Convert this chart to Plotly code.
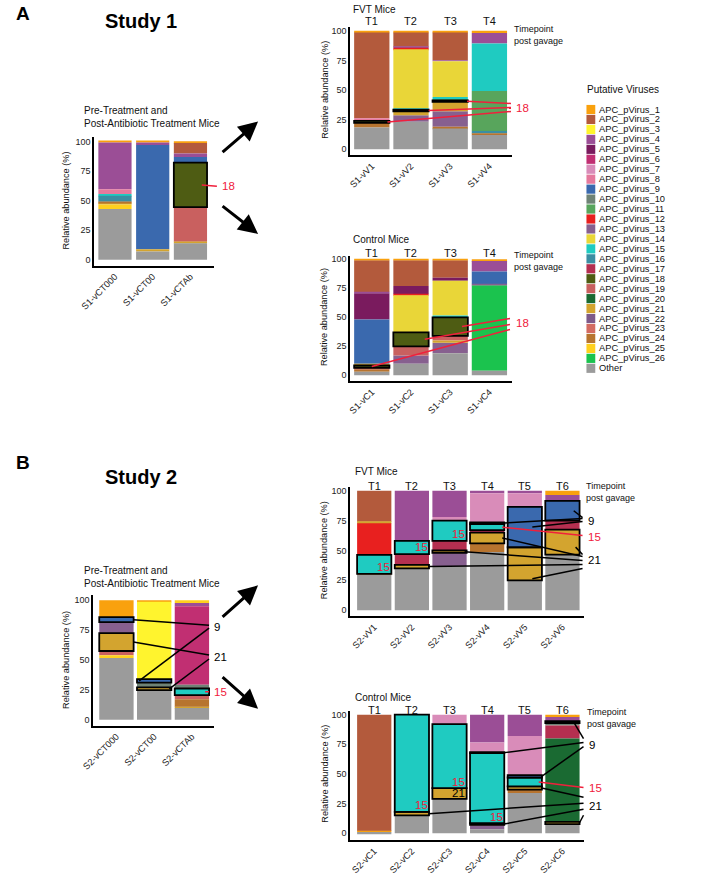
import plotly.graph_objects as go

W, H = 708, 875
FONT = "Arial, Liberation Sans, Helvetica, sans-serif"
RED = "#F0203C"
BLACK = "#000000"

# ---------------- data ----------------
VIRUS_LABELS = {i: f"APC_pVirus_{i}" for i in range(1, 27)}
VIRUS_LABELS[0] = "Other"
LEGEND_ORDER = list(range(1, 27)) + [0]

VIRUS_COLORS = {
    1: "#F9A10E", 2: "#B35A3C", 3: "#FFF42E", 4: "#9B4E96", 5: "#7A1B5E",
    6: "#C12F72", 7: "#D98CB9", 8: "#E5799D", 9: "#3A69AE", 10: "#6F8376",
    11: "#58A55C", 12: "#E8201F", 13: "#87608F", 14: "#E9D638", 15: "#1FCBC1",
    16: "#3B8EA2", 17: "#B52F50", 18: "#4E5C13", 19: "#C9605F", 20: "#1A6A32",
    21: "#D3A42F", 22: "#7D5A8A", 23: "#D36B62", 24: "#B7742F", 25: "#FFD01E",
    26: "#1BC34E", 0: "#9B9B9B",
}

# Study 1 pre-treatment
S1_PRE_SAMPLES = ["S1-vCT000", "S1-vCT00", "S1-vCTAb"]
S1_PRE_STACKS = [
    [(0, 43), (25, 3.7), (21, 1.3), (24, 1), (16, 5), (15, 1.5), (8, 4), (4, 39.5), (1, 1)],
    [(0, 7), (21, 2), (9, 88), (4, 2), (1, 1)],
    [(0, 14), (21, 1.3), (19, 29.2), (18, 37.5), (9, 4.7), (4, 3), (2, 9), (1, 1.3)],
]
S1_PRE_BOXED = [(2, 18)]

# Study 1 FVT mice
S1_FVT_SAMPLES = ["S1-vV1", "S1-vV2", "S1-vV3", "S1-vV4"]
S1_FVT_STACKS = [
    [(0, 18.4), (24, 3.9), (18, 1.7), (8, 2.3), (2, 72.3), (1, 1.4)],
    [(0, 23.2), (13, 5.6), (21, 3.3), (18, 1.4), (15, 0.9), (14, 50), (12, 1.4), (4, 0.8), (2, 12), (1, 1.4)],
    [(0, 17.6), (24, 1.4), (13, 13.1), (21, 7.9), (18, 1.3), (11, 1.2), (15, 1.6), (14, 30.2), (4, 0.8), (2, 23.5), (1, 1.4)],
    [(0, 12), (24, 1.4), (16, 2), (11, 33.8), (15, 40.2), (4, 8.9), (1, 1.7)],
]
S1_FVT_BOXED = [(0, 18), (1, 18), (2, 18)]

# Study 1 control mice
S1_CTL_SAMPLES = ["S1-vC1", "S1-vC2", "S1-vC3", "S1-vC4"]
S1_CTL_STACKS = [
    [(0, 3), (24, 2), (19, 1.5), (18, 2), (21, 1.5), (9, 38), (5, 22.5), (4, 1), (2, 27.5), (1, 1)],
    [(0, 10), (13, 7), (19, 8), (18, 12), (14, 32), (12, 1), (5, 7), (2, 22), (1, 1)],
    [(0, 19), (13, 9), (21, 2), (19, 4), (18, 16), (15, 1.5), (14, 30), (5, 2.5), (2, 15), (1, 1)],
    [(0, 4), (26, 73.5), (13, 1), (9, 11), (4, 9), (1, 1.5)],
]
S1_CTL_BOXED = [(0, 18), (1, 18), (2, 18)]

# Study 2 pre-treatment
S2_PRE_SAMPLES = ["S2-vCT000", "S2-vCT00", "S2-vCTAb"]
S2_PRE_STACKS = [
    [(0, 51.7), (25, 2.3), (19, 3.5), (21, 15), (13, 9.2), (9, 4.1), (1, 14.2)],
    [(0, 24.7), (21, 2.3), (10, 4), (9, 3), (3, 64.8), (1, 1.2)],
    [(0, 9.7), (21, 1.1), (24, 6.4), (19, 3.4), (15, 5.5), (10, 3.1), (6, 65.8), (4, 2.8), (25, 2.2)],
]
S2_PRE_BOXED = [(0, 9), (0, 21), (1, 9), (1, 21), (2, 15)]

# Study 2 FVT mice
S2_FVT_SAMPLES = ["S2-vV1", "S2-vV2", "S2-vV3", "S2-vV4", "S2-vV5", "S2-vV6"]
S2_FVT_STACKS = [
    [(0, 29.6), (24, 0.8), (15, 16), (12, 26.6), (21, 1), (2, 26)],
    [(0, 35), (21, 3), (17, 9), (15, 11), (4, 42)],
    [(0, 36.6), (13, 11.4), (21, 2), (17, 8), (15, 17), (7, 3), (4, 22)],
    [(0, 48.7), (24, 7.3), (21, 9), (17, 2), (15, 5), (9, 1.5), (7, 24.5), (4, 2)],
    [(0, 25), (21, 27.7), (9, 33.8), (7, 11.5), (4, 2)],
    [(0, 46.5), (21, 21), (17, 7.5), (9, 16.5), (4, 5), (1, 3.5)],
]
S2_FVT_BOXED = [(0, 15), (1, 21), (1, 15), (2, 21), (2, 15), (3, 21), (3, 15), (3, 9),
                (4, 21), (4, 9), (5, 21), (5, 9)]

# Study 2 control mice
S2_CTL_SAMPLES = ["S2-vC1", "S2-vC2", "S2-vC3", "S2-vC4", "S2-vC5", "S2-vC6"]
S2_CTL_STACKS = [
    [(0, 1), (1, 1), (2, 98)],
    [(0, 15), (21, 3), (15, 82)],
    [(0, 29), (21, 9), (15, 54), (7, 8)],
    [(0, 3.4), (13, 3.6), (21, 1.5), (15, 59), (9, 1), (7, 8), (4, 23.5)],
    [(0, 34), (24, 2.7), (21, 2.8), (15, 7.5), (9, 2), (7, 33), (4, 18)],
    [(0, 7.6), (21, 2), (20, 70.4), (17, 11), (10, 2), (9, 1.6), (4, 3.4), (1, 2)],
]
S2_CTL_BOXED = [(1, 21), (1, 15), (2, 21), (2, 15), (3, 21), (3, 15), (3, 9),
                (4, 21), (4, 15), (4, 9), (5, 21), (5, 9)]

TIMEPOINTS_S1 = ["T1", "T2", "T3", "T4"]
TIMEPOINTS_S2 = ["T1", "T2", "T3", "T4", "T5", "T6"]

# ---------------- layout geometry (pixels) ----------------
PANELS = [
    dict(samples=S1_PRE_SAMPLES, stacks=S1_PRE_STACKS, boxed=S1_PRE_BOXED,
         xl=82, xr=204, c0=103, unit=38.5, y0=260, y100=141, ylo=-5, yhi=104, bw=0.88, ytitle_x=53),
    dict(samples=S1_FVT_SAMPLES, stacks=S1_FVT_STACKS, boxed=S1_FVT_BOXED,
         xl=343, xr=508, c0=365, unit=40, y0=149, y100=30, ylo=-5, yhi=103, bw=0.9, ytitle_x=317),
    dict(samples=S1_CTL_SAMPLES, stacks=S1_CTL_STACKS, boxed=S1_CTL_BOXED,
         xl=343, xr=508, c0=365, unit=40, y0=376, y100=259.5, ylo=-5, yhi=103, bw=0.9, ytitle_x=317),
    dict(samples=S2_PRE_SAMPLES, stacks=S2_PRE_STACKS, boxed=S2_PRE_BOXED,
         xl=81, xr=204, c0=104.5, unit=38.5, y0=722, y100=602, ylo=-5, yhi=104, bw=0.91, ytitle_x=53),
    dict(samples=S2_FVT_SAMPLES, stacks=S2_FVT_STACKS, boxed=S2_FVT_BOXED,
         xl=343, xr=582, c0=367.5, unit=38.4, y0=612, y100=492, ylo=-5, yhi=103, bw=0.91, ytitle_x=317),
    dict(samples=S2_CTL_SAMPLES, stacks=S2_CTL_STACKS, boxed=S2_CTL_BOXED,
         xl=343, xr=582, c0=367.5, unit=38.4, y0=836, y100=717, ylo=-6, yhi=103, bw=0.91, ytitle_x=317),
]

# callouts: (text, color, label (x,y) px, [(sample, virus, x offset, frac in segment, line end px)])
CALLOUTS = {
    0: [("18", RED, (210, 186), [(2, 18, 0.3, 0.5, (207, 186))])],
    1: [("18", RED, (510, 107), [(0, 18, 0.4, 0.5, (507, 111)), (1, 18, 0.45, 0.5, (507, 107)),
                                 (2, 18, 0.43, 0.5, (507, 103))])],
    2: [("18", RED, (510, 323), [(2, 18, 0.3, 0.5, (506, 319)), (1, 18, 0.35, 0.5, (506, 325)),
                                 (0, 18, 0.0, 0.5, (506, 330))])],
    3: [("9", BLACK, (202, 629), [(0, 9, 0.45, 0.5, (199, 627)), (1, 9, -0.4, 0.5, (199, 630))]),
        ("21", BLACK, (202, 659), [(0, 21, 0.45, 0.5, (199, 657)), (1, 21, 0.4, 0.5, (199, 661))]),
        ("15", RED, (202, 694), [(2, 15, 0.35, 0.5, (199, 694))])],
    4: [("9", BLACK, (584, 522), [(3, 9, 0.3, 0.5, (580, 520)), (4, 9, 0.2, 0.5, (580, 523)),
                                  (5, 9, 0.3, 0.5, (580, 519))]),
        ("15", RED, (584, 538), [(3, 15, 0.4, 0.5, (580, 537))]),
        ("21", BLACK, (584, 562), [(1, 21, 0.45, 0.5, (580, 566)), (2, 21, 0.4, 0.5, (580, 562)),
                                   (3, 21, 0.4, 0.5, (580, 558)), (4, 21, 0.2, 0.05, (580, 570)),
                                   (5, 21, 0.35, 0.3, (580, 556))])],
    5: [("9", BLACK, (585, 747), [(3, 9, 0.45, 0.5, (581, 745)), (4, 9, 0.45, 0.5, (581, 749)),
                                  (5, 9, 0.3, 0.5, (581, 741))]),
        ("15", RED, (585, 791), [(4, 15, 0.37, 0.5, (581, 790))]),
        ("21", BLACK, (585, 809), [(1, 21, 0.45, 0.5, (581, 806)), (4, 21, 0.45, 0.5, (581, 800)),
                                   (3, 21, 0.45, 0.5, (581, 812)), (5, 21, 0.45, 0.5, (581, 818))])],
}

# in-bar labels: (panel, sample, virus, text, color, mode)
INBAR = [
    (4, 0, 15, "15", RED, "low"), (4, 1, 15, "15", RED, "low"), (4, 2, 15, "15", RED, "low"),
    (5, 1, 15, "15", RED, "low"), (5, 2, 15, "15", RED, "low"), (5, 3, 15, "15", RED, "low"),
    (5, 2, 21, "21", BLACK, "mid"),
]


def px_x(px):
    return px / W


def px_y(py):
    return 1 - py / H


fig = go.Figure()
layout = dict(
    width=W, height=H, margin=dict(l=0, r=0, t=0, b=0),
    paper_bgcolor="white", plot_bgcolor="white",
    barmode="overlay", showlegend=False, hovermode=False,
    font=dict(family=FONT, color="#111"),
)
shapes = []
annotations = []

for n, p in enumerate(PANELS):
    xa = "x" if n == 0 else f"x{n + 1}"
    ya = "y" if n == 0 else f"y{n + 1}"
    k = (p["y0"] - p["y100"]) / 100.0
    yb = p["y0"] - p["ylo"] * k
    yt = p["y0"] - p["yhi"] * k
    xr0 = (p["xl"] - p["c0"]) / p["unit"]
    xr1 = (p["xr"] - p["c0"]) / p["unit"]
    p["k"] = k

    samples = p["samples"]
    segs = {}
    info = {}
    for i, stack in enumerate(p["stacks"]):
        b = 0.0
        for v, h in stack:
            segs.setdefault(v, []).append((samples[i], b, h))
            info[(i, v)] = (b, h)
            b += h
    p["info"] = info

    for v in LEGEND_ORDER:
        if v not in segs:
            continue
        fig.add_trace(go.Bar(
            x=[s for s, _, _ in segs[v]], y=[h for _, _, h in segs[v]],
            base=[b for _, b, _ in segs[v]], width=p["bw"],
            marker=dict(color=VIRUS_COLORS[v], line=dict(width=0)),
            name=VIRUS_LABELS[v], xaxis=xa, yaxis=ya, showlegend=False,
        ))
    # outlined (highlighted) segments drawn on top
    fig.add_trace(go.Bar(
        x=[samples[i] for i, v in p["boxed"]],
        y=[info[(i, v)][1] for i, v in p["boxed"]],
        base=[info[(i, v)][0] for i, v in p["boxed"]],
        width=p["bw"],
        marker=dict(color=[VIRUS_COLORS[v] for i, v in p["boxed"]],
                    line=dict(color="black", width=1.8)),
        xaxis=xa, yaxis=ya, showlegend=False,
    ))

    xkey = "xaxis" if n == 0 else f"xaxis{n + 1}"
    ykey = "yaxis" if n == 0 else f"yaxis{n + 1}"
    layout[xkey] = dict(
        domain=[px_x(p["xl"]), px_x(p["xr"])], range=[xr0, xr1], anchor=ya,
        type="category", categoryorder="array", categoryarray=samples,
        showline=True, linewidth=2, linecolor="black", ticks="", tickangle=-45,
        tickfont=dict(size=9.2, color="#222", family=FONT), showgrid=False, zeroline=False,
        fixedrange=True,
    )
    layout[ykey] = dict(
        domain=[px_y(yb), px_y(yt)], range=[p["ylo"], p["yhi"]], anchor=xa,
        showline=True, linewidth=2, linecolor="black", ticks="",
        tickvals=[0, 25, 50, 75, 100], tickfont=dict(size=9, color="#222", family=FONT),
        showgrid=False, zeroline=False, fixedrange=True,
    )
    # y title
    annotations.append(dict(
        text="Relative abundance (%)", textangle=-90, xref="paper", yref="paper",
        x=px_x(p["ytitle_x"]), y=px_y((p["y0"] + p["y100"]) / 2), showarrow=False,
        font=dict(size=9.2, color="#111"), xanchor="center", yanchor="middle",
    ))

    def to_px(x, y, p=p):
        return p["c0"] + x * p["unit"], p["y0"] - y * p["k"]

    for text, color, (lx, ly), sources in CALLOUTS.get(n, []):
        for si, v, xo, frac, (ex, ey) in sources:
            b, h = info[(si, v)]
            sx, sy = to_px(si + xo, b + frac * h)
            shapes.append(dict(type="line", xref="paper", yref="paper",
                               x0=px_x(sx), y0=px_y(sy), x1=px_x(ex), y1=px_y(ey),
                               line=dict(color=color, width=1.5)))
        annotations.append(dict(text=text, xref="paper", yref="paper", x=px_x(lx), y=px_y(ly),
                                showarrow=False, xanchor="left", yanchor="middle",
                                font=dict(size=11.5, color=color)))

for pn, si, v, text, color, mode in INBAR:
    p = PANELS[pn]
    b, h = p["info"][(si, v)]
    yv = b + 5.5 if mode == "low" else b + h / 2
    cx, cy = p["c0"] + (si + 0.25) * p["unit"], p["y0"] - yv * p["k"]
    annotations.append(dict(text=text, xref="paper", yref="paper", x=px_x(cx), y=px_y(cy),
                            showarrow=False, xanchor="center", yanchor="middle",
                            font=dict(size=11.5, color=color)))

# time-point labels
for n, tps, ty, tpx, tpy in [(1, TIMEPOINTS_S1, 20, 508, 34.5), (2, TIMEPOINTS_S1, 253, 508, 261.5),
                             (4, TIMEPOINTS_S2, 487, 582, 493), (5, TIMEPOINTS_S2, 712, 583, 720.5)]:
    p = PANELS[n]
    for i, t in enumerate(tps):
        annotations.append(dict(text=t, xref="paper", yref="paper",
                                x=px_x(p["c0"] + i * p["unit"]), y=px_y(ty), showarrow=False,
                                xanchor="center", yanchor="middle", font=dict(size=11, color="#111")))
    annotations.append(dict(text="Timepoint<br>post gavage", xref="paper", yref="paper",
                            x=px_x(tpx), y=px_y(tpy), showarrow=False, align="left",
                            xanchor="left", yanchor="middle", font=dict(size=9, color="#111")))

# panel titles
for text, x, y in [("FVT Mice", 344, 9), ("Control Mice", 344, 240),
                   ("FVT Mice", 346, 473), ("Control Mice", 346, 700)]:
    annotations.append(dict(text=text, xref="paper", yref="paper", x=px_x(x), y=px_y(y),
                            showarrow=False, xanchor="left", yanchor="middle",
                            font=dict(size=10, color="#111")))
for y in [116.5, 579]:
    annotations.append(dict(text="Pre-Treatment and<br>Post-Antibiotic Treatment Mice",
                            xref="paper", yref="paper", x=px_x(69), y=px_y(y), showarrow=False,
                            align="left", xanchor="left", yanchor="middle",
                            font=dict(size=10, color="#111")))
for text, x, y in [("Study 1", 130, 20), ("Study 2", 130, 478)]:
    annotations.append(dict(text=f"<b>{text}</b>", xref="paper", yref="paper", x=px_x(x), y=px_y(y),
                            showarrow=False, xanchor="center", yanchor="middle",
                            font=dict(size=20, color="#000")))
for text, x, y in [("A", 0, 0), ("B", 0, 451)]:
    annotations.append(dict(text=f"<b>{text}</b>", xref="paper", yref="paper", x=px_x(x), y=px_y(y),
                            showarrow=False, xanchor="left", yanchor="top",
                            font=dict(size=19, color="#000")))

# arrows
for (tx, ty), (hx, hy) in [((212, 153), (249, 121)), ((212, 205), (249, 234)),
                           ((212, 620), (249, 587)), ((212, 678), (249, 711))]:
    annotations.append(dict(text="", xref="paper", yref="paper", x=px_x(hx), y=px_y(hy),
                            ax=tx - hx, ay=ty - hy, showarrow=True, arrowhead=2,
                            arrowsize=1.3, arrowwidth=3, arrowcolor="black"))

# legend (drawn manually for compact spacing)
annotations.append(dict(text="Putative Viruses", xref="paper", yref="paper", x=px_x(583), y=px_y(89),
                        showarrow=False, xanchor="left", yanchor="middle",
                        font=dict(size=10, color="#111")))
for j, v in enumerate(LEGEND_ORDER):
    cy = 109 + j * 10.0
    shapes.append(dict(type="rect", xref="paper", yref="paper",
                       x0=px_x(584), x1=px_x(593), y0=px_y(cy + 4.6), y1=px_y(cy - 4.6),
                       fillcolor=VIRUS_COLORS[v], line=dict(width=0)))
    annotations.append(dict(text=VIRUS_LABELS[v], xref="paper", yref="paper",
                            x=px_x(594.5), y=px_y(cy), showarrow=False, xanchor="left",
                            yanchor="middle", font=dict(size=9.3, color="#111")))

layout["shapes"] = shapes
layout["annotations"] = annotations
fig.update_layout(**layout)
fig.write_html("out.html", config={"displayModeBar": False},
               post_script="document.body.style.margin='0px';")
